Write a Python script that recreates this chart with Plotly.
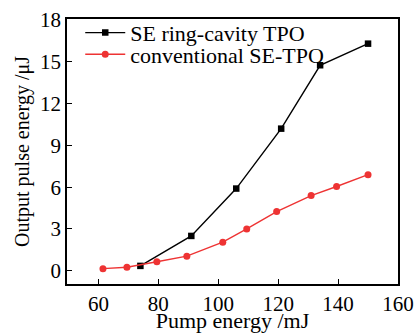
import plotly.graph_objects as go

ring_x = [74, 91, 106, 121, 134, 150]
ring_y = [0.35, 2.5, 5.9, 10.2, 14.75, 16.3]
conv_x = [61.5, 69.5, 79.5, 89.5, 101.5, 109.5, 119.5, 131, 139.5, 150]
conv_y = [0.15, 0.25, 0.65, 1.05, 2.05, 3.0, 4.25, 5.4, 6.05, 6.9]
x_ticks = [60, 80, 100, 120, 140, 160]
y_ticks = [0, 3, 6, 9, 12, 15, 18]

serif = "Liberation Serif"

fig = go.Figure()
fig.add_trace(go.Scatter(x=ring_x, y=ring_y, mode="lines+markers", name="SE ring-cavity TPO",
                         line=dict(color="black", width=1.4), legend="legend",
                         marker=dict(symbol="square", size=6.5, color="black")))
fig.add_trace(go.Scatter(x=conv_x, y=conv_y, mode="lines+markers", name="conventional SE-TPO",
                         line=dict(color="#ee3333", width=1.4), legend="legend2",
                         marker=dict(symbol="circle", size=7, color="#ee3333")))

leg_common = dict(xanchor="left", yanchor="middle", bgcolor="rgba(0,0,0,0)",
                  font=dict(family=serif, size=22), itemwidth=40)

fig.update_layout(
    width=416, height=333,
    margin=dict(l=67, r=17.5, t=16, b=49),
    paper_bgcolor="white", plot_bgcolor="white",
    font=dict(family=serif, size=20, color="black"),
    showlegend=True,
    legend=dict(x=0.04, y=0.948, **leg_common),
    legend2=dict(x=0.04, y=0.866, **leg_common),
    xaxis=dict(range=[49.5, 160], tickvals=x_ticks, ticks="inside", ticklen=5, tickwidth=1.2,
               tickcolor="black", showline=True, linecolor="black", linewidth=1.6, mirror=True,
               showgrid=False, zeroline=False, automargin=False,
               title=dict(text="Pump energy /mJ", standoff=3, font=dict(family=serif, size=22)),
               tickfont=dict(family=serif, size=21)),
    yaxis=dict(range=[-0.95, 18.07], tickvals=y_ticks, ticks="inside", ticklen=5, tickwidth=1.2,
               tickcolor="black", showline=True, linecolor="black", linewidth=1.6, mirror=True,
               showgrid=False, zeroline=False, automargin=False,
               title=dict(text="Output pulse energy /μJ", standoff=5, font=dict(family=serif, size=20)),
               tickfont=dict(family=serif, size=21)),
)
fig.write_html("out.html", config={"displayModeBar": False},
               post_script="document.body.style.margin='0';document.body.style.overflow='hidden';")
